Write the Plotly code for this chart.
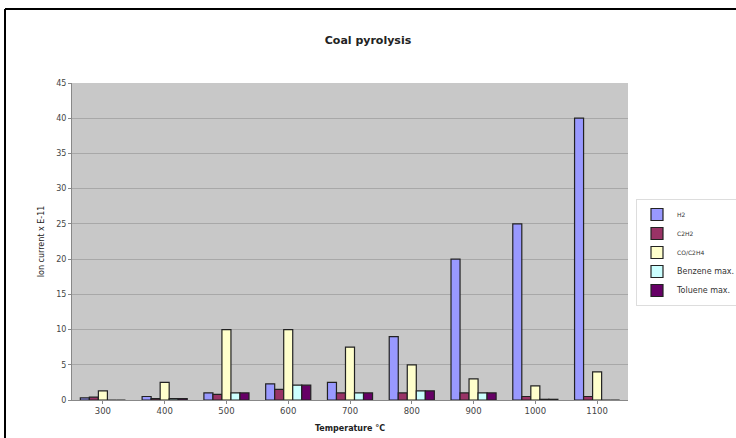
import plotly.graph_objects as go

categories = ["300", "400", "500", "600", "700", "800", "900", "1000", "1100"]
h2 = [0.3, 0.5, 1.0, 2.3, 2.5, 9.0, 20.0, 25.0, 40.0]
c2h2 = [0.4, 0.2, 0.8, 1.5, 1.0, 1.0, 1.0, 0.5, 0.5]
co_c2h4 = [1.3, 2.5, 10.0, 10.0, 7.5, 5.0, 3.0, 2.0, 4.0]
benzene = [0.0, 0.2, 1.0, 2.1, 1.0, 1.3, 1.0, 0.1, 0.0]
toluene = [0.0, 0.2, 1.0, 2.1, 1.0, 1.3, 1.0, 0.1, 0.0]

series = [
    ("H2", h2, "#9999FF", 6),
    ("C2H2", c2h2, "#993366", 6),
    ("CO/C2H4", co_c2h4, "#FFFFCC", 6),
    ("Benzene max.", benzene, "#CCFFFF", 8),
    ("Toluene max.", toluene, "#660066", 8),
]

FONT = "DejaVu Sans, Liberation Sans, sans-serif"

fig = go.Figure()
for name, vals, col, fs in series:
    fig.add_trace(go.Bar(
        x=categories, y=vals,
        name=f"<span style='font-size:{fs}px'>{name}</span>",
        marker=dict(color=col, line=dict(color="#222222", width=1.2)),
    ))

fig.update_layout(
    width=736, height=438,
    margin=dict(l=72, r=108, t=83, b=38, autoexpand=False),
    paper_bgcolor="white",
    plot_bgcolor="#C8C8C8",
    barmode="group",
    bargap=0.27,
    bargroupgap=0,
    font=dict(family=FONT, size=8, color="#333333"),
    title=dict(text="<b>Coal pyrolysis</b>", x=0.5, xanchor="center",
               y=1 - 40 / 438, yanchor="middle",
               font=dict(size=11, color="#222222")),
    showlegend=True,
    legend=dict(x=(636 - 72) / 556, xanchor="left", y=(400 - 199) / 317, yanchor="top",
                bgcolor="white", bordercolor="#DDDDDD", borderwidth=1,
                font=dict(family=FONT, size=6, color="#333333"),
                itemwidth=30, tracegroupgap=0),
    xaxis=dict(
        title=dict(text="<b>Temperature °C</b>", font=dict(size=8, color="#222222"), standoff=10),
        showline=True, linecolor="#888888", linewidth=1,
        ticks="outside", ticklen=3, tickcolor="#888888",
        tickfont=dict(size=8.5, color="#444444"),
    ),
    yaxis=dict(
        title=dict(text="Ion current x E-11", font=dict(size=8, color="#222222"), standoff=10),
        range=[0, 45], dtick=5,
        showgrid=True, gridcolor="#A8A8A8", gridwidth=1,
        showline=True, linecolor="#888888", linewidth=1,
        ticks="outside", ticklen=3, tickcolor="#888888",
        tickfont=dict(size=8, color="#444444"),
        zeroline=False,
    ),
)

# outer frame lines (left and top), like the scanned chart border
fig.add_shape(type="line", xref="paper", yref="paper",
              x0=(5 - 72) / 556, x1=(5 - 72) / 556, y0=(400 - 438) / 317, y1=(400 - 9) / 317,
              line=dict(color="black", width=2))
fig.add_shape(type="line", xref="paper", yref="paper",
              x0=(5 - 72) / 556, x1=(736 - 72) / 556, y0=(400 - 9) / 317, y1=(400 - 9) / 317,
              line=dict(color="black", width=2))

fig.write_html("out.html", config={"displayModeBar": False},
               post_script="document.body.style.margin='0';")
